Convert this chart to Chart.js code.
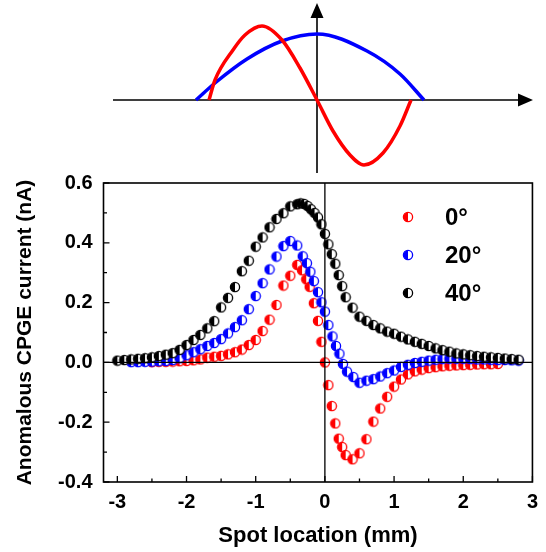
<!DOCTYPE html>
<html>
  <head>
    <style>
      html, body { margin: 0; background: #fff; }
      #wrap { position: relative; width: 546px; height: 552px; }
      #chart { position: absolute; left: 0; top: 0; }
      #sketch { position: absolute; left: 100px; top: 0; }
    </style>
  </head>
  <body>
    <div id="wrap">
      <canvas id="chart" width="546" height="552"></canvas>
      <canvas id="sketch" width="440" height="180"></canvas>
    </div>

    <script src="https://cdn.jsdelivr.net/npm/chart.js"></script>
    <script>
      // ---- main plot data ----
      const seriesLabels = ["0°", "20°", "40°"];
      const seriesColors = ["#ff0000", "#0000ff", "#000000"];

      const loc0 = [-2.5, -2.4, -2.3, -2.2, -2.1, -2.0, -1.9, -1.8, -1.7, -1.6, -1.5, -1.4, -1.3, -1.2, -1.1, -1.0, -0.9, -0.8, -0.7, -0.6, -0.5, -0.4,
        -0.33, -0.27, -0.22, -0.16, -0.1, -0.05, 0,
        0.05, 0.1, 0.15, 0.2, 0.25, 0.3,
        0.4, 0.5, 0.6, 0.7, 0.8, 0.9, 1.0, 1.1, 1.2, 1.3, 1.4, 1.5, 1.6, 1.7, 1.8, 1.9, 2.0, 2.1, 2.2, 2.3, 2.4, 2.5];
      const cur0 = [0.001, 0.002, 0.002, 0.003, 0.004, 0.005, 0.007, 0.010, 0.016, 0.019, 0.022, 0.027, 0.034, 0.043, 0.058, 0.075, 0.105, 0.143, 0.192, 0.257, 0.290, 0.326,
        0.308, 0.278, 0.253, 0.198, 0.139, 0.069, 0.0,
        -0.076, -0.146, -0.204, -0.255, -0.283, -0.310,
        -0.324, -0.304, -0.257, -0.198, -0.154, -0.115, -0.081, -0.057, -0.040, -0.030, -0.024, -0.019, -0.016, -0.013, -0.011, -0.010, -0.009, -0.008, -0.007, -0.006, -0.006, -0.005];

      const loc20 = [-2.8, -2.7, -2.6, -2.5, -2.4, -2.3, -2.2, -2.1, -2.0, -1.9, -1.8, -1.7, -1.6, -1.5, -1.4, -1.3, -1.2, -1.1, -1.0, -0.9, -0.8, -0.7, -0.6, -0.5, -0.4,
        -0.32, -0.26, -0.21, -0.16, -0.1, -0.05, 0, 0.05, 0.11, 0.16, 0.21, 0.26, 0.32, 0.41,
        0.5, 0.6, 0.7, 0.8, 0.9, 1.0, 1.1, 1.2, 1.3, 1.4, 1.5, 1.6, 1.7, 1.8, 1.9, 2.0, 2.1, 2.2, 2.3, 2.4, 2.5, 2.6, 2.7, 2.8];
      const cur20 = [0.001, 0.001, 0.002, 0.003, 0.004, 0.005, 0.008, 0.014, 0.024, 0.034, 0.044, 0.055, 0.065, 0.078, 0.097, 0.118, 0.141, 0.178, 0.222, 0.265, 0.311, 0.354, 0.389, 0.406, 0.391,
        0.355, 0.332, 0.303, 0.272, 0.235, 0.201, 0.170, 0.125, 0.087, 0.055, 0.029, -0.005, -0.031, -0.049,
        -0.068, -0.061, -0.056, -0.047, -0.036, -0.027, -0.015, -0.008, -0.002, 0.002, 0.006, 0.009, 0.011, 0.012, 0.012, 0.012, 0.011, 0.010, 0.010, 0.009, 0.008, 0.008, 0.007, 0.006];

      const loc40 = [-3.0, -2.9, -2.8, -2.7, -2.6, -2.5, -2.4, -2.3, -2.2, -2.1, -2.0, -1.9, -1.8, -1.7, -1.6, -1.5, -1.4, -1.3, -1.2, -1.1, -1.0, -0.9, -0.8, -0.7, -0.6, -0.5, -0.4,
        -0.35, -0.3, -0.25, -0.2, -0.15, -0.1, -0.05, 0, 0.05, 0.1, 0.15, 0.2, 0.25, 0.3,
        0.4, 0.5, 0.6, 0.7, 0.8, 0.9, 1.0, 1.1, 1.2, 1.3, 1.4, 1.5, 1.6, 1.7, 1.8, 1.9, 2.0, 2.1, 2.2, 2.3, 2.4, 2.5, 2.6, 2.7, 2.8];
      const cur40 = [0.006, 0.008, 0.010, 0.012, 0.014, 0.017, 0.021, 0.026, 0.031, 0.042, 0.058, 0.075, 0.092, 0.114, 0.138, 0.184, 0.216, 0.252, 0.305, 0.340, 0.387, 0.418, 0.452, 0.480, 0.499, 0.522, 0.529,
        0.532, 0.530, 0.523, 0.512, 0.500, 0.485, 0.462, 0.430, 0.395, 0.362, 0.330, 0.292, 0.255, 0.218,
        0.183, 0.153, 0.139, 0.125, 0.114, 0.103, 0.096, 0.086, 0.077, 0.069, 0.062, 0.055, 0.047, 0.041, 0.036, 0.030, 0.027, 0.024, 0.021, 0.019, 0.017, 0.015, 0.013, 0.011, 0.009];

      const xTicks = [-3, -2, -1, 0, 1, 2, 3];
      const yTicks = [-0.4, -0.2, 0.0, 0.2, 0.4, 0.6];

      // ---- schematic waves (arbitrary units) ----
      const redWaveX = [-1.08, -1.02, -0.84, -0.72, -0.55, -0.35, -0.17, 0, 0.16, 0.33, 0.47, 0.66, 0.83, 0.94];
      const redWaveY = [0, 0.2, 0.5, 0.65, 0.74, 0.6, 0.32, 0, -0.31, -0.55, -0.65, -0.53, -0.26, 0];
      const blueWaveX = [-1.21, -1.02, -0.7, -0.35, 0, 0.5, 0.83, 1.07];
      const blueWaveY = [0, 0.17, 0.41, 0.59, 0.66, 0.49, 0.26, 0];
      const sketchAxisX = [-2.04, 2.16];
      const sketchAxisY = [-0.73, 0.97];

      const FONT = "'Liberation Sans', Arial, sans-serif";
      Chart.defaults.color = "#000";
      Chart.defaults.font.family = FONT;

      function pairs(xs, ys) {
        return xs.map((x, i) => ({ x: x, y: ys[i] }));
      }

      // half filled circle: left half coloured, right half white
      function halfMarker(color) {
        const c = document.createElement("canvas");
        c.width = 12; c.height = 12;
        const g = c.getContext("2d");
        const r = 4.6;
        g.fillStyle = "#fff";
        g.beginPath(); g.arc(6, 6, r, 0, Math.PI * 2); g.fill();
        g.fillStyle = color;
        g.beginPath(); g.arc(6, 6, r, Math.PI / 2, Math.PI * 3 / 2); g.closePath(); g.fill();
        g.strokeStyle = color; g.lineWidth = 1.3;
        g.beginPath(); g.arc(6, 6, r, 0, Math.PI * 2); g.stroke();
        return c;
      }
      const markers = seriesColors.map(halfMarker);

      const framePlugin = {
        id: "frame",
        afterDatasetsDraw(chart) {
          const { ctx, chartArea: a, scales: { x, y } } = chart;
          ctx.save();
          ctx.strokeStyle = "#000";
          ctx.lineWidth = 1.3;
          const x0 = x.getPixelForValue(0), y0 = y.getPixelForValue(0);
          ctx.beginPath();
          ctx.moveTo(a.left, y0); ctx.lineTo(a.right, y0);
          ctx.moveTo(x0, a.top); ctx.lineTo(x0, a.bottom);
          ctx.stroke();

          ctx.lineWidth = 1.6;
          ctx.strokeRect(a.left, a.top, a.right - a.left, a.bottom - a.top);

          // inward ticks, minor ones half way between majors
          ctx.lineWidth = 1.3;
          ctx.beginPath();
          xTicks.forEach((v, i) => {
            const px = x.getPixelForValue(v);
            ctx.moveTo(px, a.bottom); ctx.lineTo(px, a.bottom - 6);
            if (i > 0) {
              const pm = x.getPixelForValue((v + xTicks[i - 1]) / 2);
              ctx.moveTo(pm, a.bottom); ctx.lineTo(pm, a.bottom - 3.5);
            }
          });
          yTicks.forEach((v, i) => {
            const py = y.getPixelForValue(v);
            ctx.moveTo(a.left, py); ctx.lineTo(a.left + 6, py);
            if (i > 0) {
              const pm = y.getPixelForValue((v + yTicks[i - 1]) / 2);
              ctx.moveTo(a.left, pm); ctx.lineTo(a.left + 3.5, pm);
            }
          });
          ctx.stroke();
          ctx.restore();
        },
        afterDraw(chart) {
          const { ctx, chartArea: a } = chart;
          ctx.save();
          ctx.font = "bold 24px " + FONT;
          ctx.textBaseline = "middle";
          ctx.textAlign = "left";
          ctx.fillStyle = "#000";
          seriesLabels.forEach((lab, i) => {
            const mx = a.left + 304.5, my = a.top + 34 + i * 38;
            const m = markers[i];
            ctx.drawImage(m, mx - m.width / 2, my - m.height / 2);
            ctx.fillText(lab, mx + 37, my + 1);
          });
          ctx.restore();
        }
      };

      const series = [
        { label: seriesLabels[0], data: pairs(loc0, cur0), order: 3 },
        { label: seriesLabels[1], data: pairs(loc20, cur20), order: 2 },
        { label: seriesLabels[2], data: pairs(loc40, cur40), order: 1 }
      ].map((d, i) => Object.assign(d, {
        pointStyle: markers[i],
        pointRadius: 4.6,
        showLine: false,
        borderColor: seriesColors[i],
        backgroundColor: seriesColors[i]
      }));

      new Chart(document.getElementById("chart"), {
        type: "scatter",
        data: { datasets: series },
        options: {
          responsive: false,
          animation: false,
          devicePixelRatio: 1,
          layout: { padding: { top: 183, right: 13, left: 0, bottom: 0 } },
          plugins: { legend: { display: false }, tooltip: { enabled: false } },
          scales: {
            x: {
              type: "linear",
              min: -3.2,
              max: 3.0,
              afterBuildTicks: s => { s.ticks = xTicks.map(v => ({ value: v })); },
              afterFit: s => { s.height = 70; },
              grid: { display: false, drawTicks: false },
              border: { display: false },
              ticks: {
                padding: 8,
                font: { size: 20, weight: "bold" },
                color: "#000",
                callback: v => String(v)
              },
              title: {
                display: true,
                text: "Spot location (mm)",
                font: { size: 22, weight: "bold" },
                color: "#000",
                padding: { top: 0, bottom: 3 }
              }
            },
            y: {
              type: "linear",
              min: -0.4,
              max: 0.6,
              afterBuildTicks: s => { s.ticks = yTicks.map(v => ({ value: v })); },
              afterFit: s => { s.width = 103.5; },
              grid: { display: false, drawTicks: false },
              border: { display: false },
              ticks: {
                padding: 11,
                font: { size: 20, weight: "bold" },
                color: "#000",
                callback: v => v.toFixed(1)
              },
              title: {
                display: true,
                text: "Anomalous CPGE current (nA)",
                font: { size: 21, weight: "bold" },
                color: "#000",
                padding: { top: 13, bottom: 0 }
              }
            }
          }
        },
        plugins: [framePlugin]
      });

      // ---- schematic above the plot ----
      const arrowPlugin = {
        id: "arrows",
        beforeDatasetsDraw(chart) {
          const { ctx, scales: { x, y } } = chart;
          const x0 = x.getPixelForValue(0), y0 = y.getPixelForValue(0);
          const xl = x.getPixelForValue(sketchAxisX[0]), xr = x.getPixelForValue(sketchAxisX[1]);
          const yb = y.getPixelForValue(sketchAxisY[0]), yt = y.getPixelForValue(sketchAxisY[1]);
          ctx.save();
          ctx.strokeStyle = "#000";
          ctx.fillStyle = "#000";
          ctx.lineWidth = 1.6;
          ctx.beginPath();
          ctx.moveTo(xl, y0); ctx.lineTo(xr - 10, y0);
          ctx.moveTo(x0, yb); ctx.lineTo(x0, yt + 10);
          ctx.stroke();
          ctx.beginPath();
          ctx.moveTo(xr, y0); ctx.lineTo(xr - 15, y0 - 6.5); ctx.lineTo(xr - 15, y0 + 6.5); ctx.closePath();
          ctx.moveTo(x0, yt); ctx.lineTo(x0 - 6.5, yt + 15); ctx.lineTo(x0 + 6.5, yt + 15); ctx.closePath();
          ctx.fill();
          ctx.restore();
        }
      };

      new Chart(document.getElementById("sketch"), {
        type: "line",
        data: {
          datasets: [
            { data: pairs(redWaveX, redWaveY), borderColor: "#ff0000", borderWidth: 3.5, pointRadius: 0, cubicInterpolationMode: "monotone", fill: false, clip: false },
            { data: pairs(blueWaveX, blueWaveY), borderColor: "#0000ff", borderWidth: 3.5, pointRadius: 0, cubicInterpolationMode: "monotone", fill: false, clip: false }
          ]
        },
        options: {
          responsive: false,
          animation: false,
          devicePixelRatio: 1,
          layout: { padding: 0 },
          plugins: { legend: { display: false }, tooltip: { enabled: false } },
          scales: {
            x: { type: "linear", min: -2.17, max: 2.23, display: false },
            y: { type: "linear", min: -0.8, max: 1.0, display: false }
          }
        },
        plugins: [arrowPlugin]
      });
    </script>
  </body>
</html>
